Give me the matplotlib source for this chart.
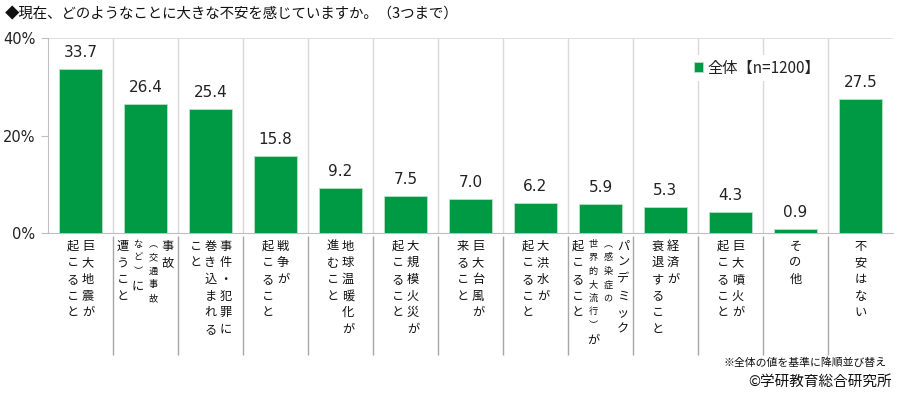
import matplotlib
matplotlib.use("Agg")
import matplotlib.pyplot as plt
import numpy as np

# data
labels = [
    ["巨大地震が", "起こること"],
    ["事故", "︵交通事故", "など︶に", "遭うこと"],
    ["事件・犯罪に", "巻き込まれる", "こと"],
    ["戦争が", "起こること"],
    ["地球温暖化が", "進むこと"],
    ["大規模火災が", "起こること"],
    ["巨大台風が", "来ること"],
    ["大洪水が", "起こること"],
    ["パンデミック", "︵感染症の", "世界的大流行︶が", "起こること"],
    ["経済が", "衰退すること"],
    ["巨大噴火が", "起こること"],
    ["その他"],
    ["不安はない"],
]
values = [33.7, 26.4, 25.4, 15.8, 9.2, 7.5, 7.0, 6.2, 5.9, 5.3, 4.3, 0.9, 27.5]
yticks = [0, 20, 40]
ytick_labels = ["0%", "20%", "40%"]
series_name = "全体【n=1200】"
title = "◆現在、どのようなことに大きな不安を感じていますか。（3つまで）"
note = "※全体の値を基準に降順並び替え"
credit = "©学研教育総合研究所"

JP = ["Noto Sans CJK JP", "DejaVu Sans"]
plt.rcParams["font.family"] = ["DejaVu Sans", "Noto Sans CJK JP"]

green = "#009944"
grid_c = "#d9d9d9"
axis_c = "#bfbfbf"

fig = plt.figure(figsize=(8.97, 3.95), dpi=100)
ax = fig.add_axes([48 / 897, 1 - 233 / 395, 845 / 897, 195 / 395])

x = np.arange(len(values))
ax.bar(x, values, width=0.66, color=green, edgecolor="#b8e0c6", linewidth=0.6,
       label=series_name, zorder=3)

for xi, v in zip(x, values):
    ax.annotate("%.1f" % v, xy=(xi, v), xytext=(0, 6.5), textcoords="offset points",
                ha="center", va="bottom", fontsize=11, color="#222222")

ax.set_xlim(-0.5, len(values) - 0.5)
ax.set_ylim(0, 40)
ax.set_yticks(yticks)
ax.set_yticklabels(ytick_labels)

# grid lines
bounds = np.arange(0.5, len(values) - 0.5)
ax.vlines(bounds, 0, 40, color=grid_c, linewidth=1, zorder=1)
ax.axhline(40, color=grid_c, linewidth=1.2, zorder=1)
ax.vlines(bounds, -0.626, -0.015, transform=ax.get_xaxis_transform(),
          clip_on=False, color="#a6a6a6", linewidth=1)

for s in ["top", "right"]:
    ax.spines[s].set_visible(False)
ax.spines["left"].set_color(axis_c)
ax.spines["bottom"].set_color(axis_c)
ax.tick_params(axis="x", bottom=False, labelbottom=False)
ax.tick_params(axis="y", direction="out", length=5, color=axis_c, labelsize=10.5,
               pad=4, labelcolor="#222222")

# vertical category labels (columns right to left)
col_pitch = 10.8
top_pad = 3.4
for i, cols in enumerate(labels):
    n = len(cols)
    small = False
    for j, col in enumerate(cols):
        dx = (n - 1) / 2 * col_pitch - j * col_pitch
        y = -top_pad
        for ch in col:
            if ch == "︵":
                small = True
            size = 6.6 if small else 8.8
            pitch = 9.7 if small else 12.0
            ax.annotate(ch, xy=(i, 0), xycoords=("data", "axes fraction"),
                        xytext=(dx, y - pitch / 2), textcoords="offset points",
                        ha="center", va="center", fontsize=size, family=JP,
                        color="#111111", annotation_clip=False)
            y -= pitch
            if ch == "︶":
                small = False

leg = ax.legend(loc="center", bbox_to_anchor=(0.839, 0.846), frameon=True,
                handlelength=0.6, handleheight=0.6, handletextpad=0.3,
                borderpad=0.3, prop={"family": JP, "size": 11})
leg.get_frame().set_facecolor("white")
leg.get_frame().set_edgecolor("none")
leg.get_frame().set_alpha(1)
leg.set_zorder(5)
for t in leg.get_texts():
    t.set_color("#222222")

fig.text(5 / 897, 1 - 14 / 395, title, ha="left", va="center", fontsize=10.4,
         family=JP, color="#111111")
fig.text(887 / 897, 1 - 363 / 395, note, ha="right", va="center", fontsize=7.8,
         family=JP, color="#111111")
fig.text(892 / 897, 1 - 382 / 395, credit, ha="right", va="center", fontsize=10.5,
         family=JP, color="#111111")

fig.savefig("out.png", dpi=100)
